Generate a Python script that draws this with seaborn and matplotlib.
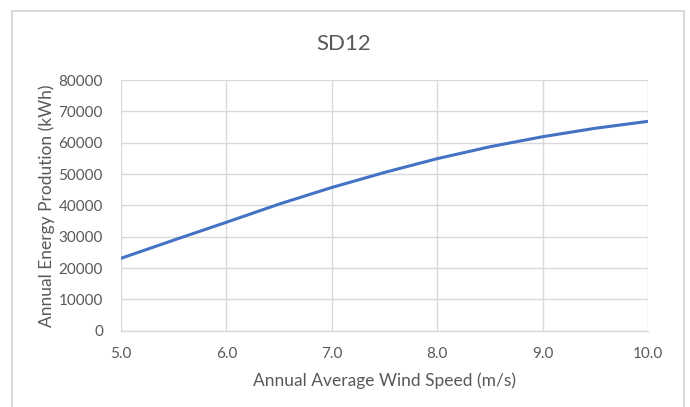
import matplotlib
matplotlib.use("Agg")
import matplotlib.pyplot as plt
import seaborn as sns
import pandas as pd
from matplotlib.patches import Rectangle

# wind speed (m/s) vs annual energy (kWh)
wind_speed = [5.0, 5.5, 6.0, 6.5, 7.0, 7.5, 8.0, 8.5, 9.0, 9.5, 10.0]
energy = [23100, 28900, 34600, 40400, 45700, 50500, 54900, 58700, 61900, 64600, 66800]
x_ticks = [5.0, 6.0, 7.0, 8.0, 9.0, 10.0]
y_ticks = [0, 10000, 20000, 30000, 40000, 50000, 60000, 70000, 80000]

df = pd.DataFrame({"speed": wind_speed, "energy": energy})

sns.set_style("white")
plt.rcParams["font.family"] = ["Lato", "DejaVu Sans"]
txt = "#595959"
grid = "#D9D9D9"

fig = plt.figure(figsize=(6.9, 4.07), dpi=100)
ax = fig.add_axes([121 / 690, 1 - 330.7 / 407, 527 / 690, 250.7 / 407])

sns.lineplot(data=df, x="speed", y="energy", ax=ax, color="#4472C4", linewidth=2.2)

ax.set_xlim(5.0, 10.0)
ax.set_ylim(0, 80000)
ax.set_xticks(x_ticks)
ax.set_xticklabels([f"{v:.1f}" for v in x_ticks])
ax.set_yticks(y_ticks)
ax.set_yticklabels([str(v) for v in y_ticks])
ax.tick_params(colors=txt, labelsize=11, length=0)
ax.tick_params(axis="y", pad=13)
ax.tick_params(axis="x", pad=12)
ax.grid(True, color=grid, linewidth=1)
for s in ["top", "right", "left"]:
    ax.spines[s].set_visible(False)
ax.spines["bottom"].set_color(grid)
ax.spines["bottom"].set_linewidth(1)
ax.set_xlabel("Annual Average Wind Speed (m/s)", color=txt, fontsize=12.5)
ax.set_ylabel("Annual Energy Prodution (kWh)", color=txt, fontsize=12.5)
ax.xaxis.set_label_coords(0.5, (330.7 - 381) / 250.7)
ax.yaxis.set_label_coords((47 - 121) / 527, 0.5)
ax.xaxis.label.set_va("center")
ax.yaxis.label.set_va("center")

fig.text(344 / 690, 1 - 44 / 407, "SD12", ha="center", va="center", color=txt, fontsize=16)

fig.patches.append(Rectangle((12 / 690, -0.05), (683.5 - 12) / 690, 1.05 - 10.5 / 407,
                             transform=fig.transFigure, fill=False,
                             edgecolor=grid, linewidth=1.5))

fig.savefig("out.png", dpi=100)
